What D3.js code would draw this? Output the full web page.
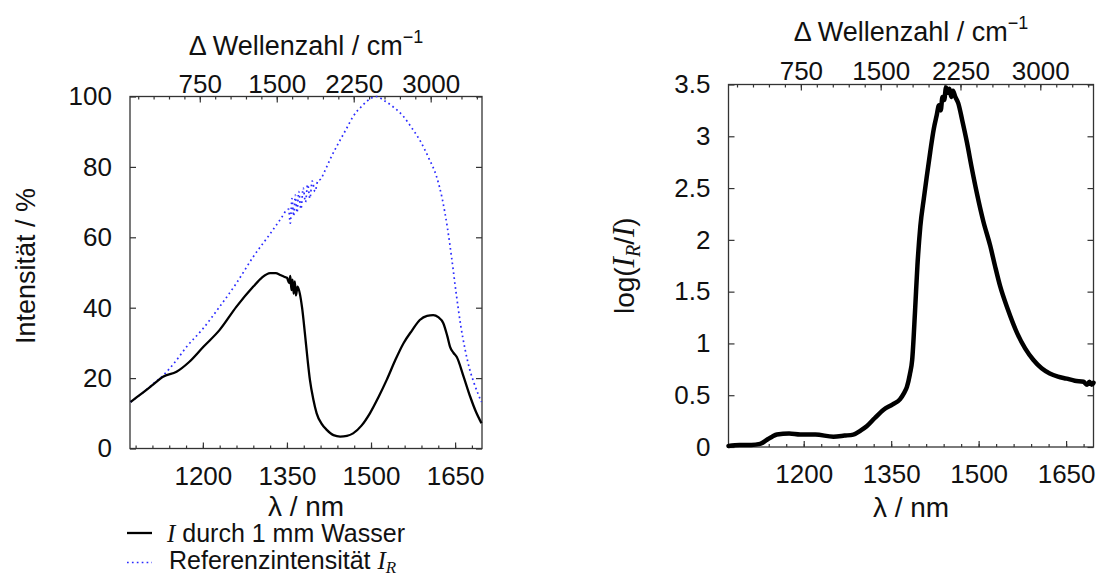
<!DOCTYPE html>
<html>
<head>
<meta charset="utf-8">
<script src="https://cdn.jsdelivr.net/npm/d3@7"></script>
<style>
  body { margin: 0; background: #fff; }
  text { font-family: "Liberation Sans", Arial, Helvetica, sans-serif; fill: #111; }
  .axis path { display: none; }
  .axis line { stroke: #333; stroke-width: 1.2; }
  .axis text { font-size: 26px; fill: #111; font-family: "Liberation Sans", Arial, sans-serif; }
</style>
</head>
<body>
<script>
// reference intensity I_R (blue dotted), in %
var lambdaRef = [1071, 1090, 1110, 1130, 1150, 1171, 1200, 1230, 1260, 1290, 1320, 1340, 1350,
    1353, 1356, 1359, 1362, 1365, 1368, 1371, 1375, 1379, 1383, 1387, 1391, 1395, 1400, 1405, 1410,
    1418, 1428, 1439, 1455, 1468, 1485, 1500, 1510, 1522, 1540, 1558, 1573, 1587, 1603, 1617, 1627, 1636,
    1644, 1652, 1660, 1668, 1676, 1684, 1691, 1697];
var refIntensity = [13.2, 15.5, 18.2, 20.9, 24.5, 28.9, 34, 40.3, 47, 54.5, 61, 65.5, 67.8,
    68, 64, 71, 66, 72, 67, 73, 68, 74, 70, 75, 71, 76, 73, 76, 76.5,
    79, 82.5, 85.9, 90.5, 94.3, 97.5, 99.5, 100, 99, 97, 94.3, 91, 87.6, 82.5, 77.2, 71, 63,
    54, 44, 35, 28, 22.5, 18.5, 15.5, 13.2];

// intensity through 1 mm water (black solid), in %
var lambdaWater = [1071, 1090, 1110, 1129, 1153, 1175, 1201, 1230, 1260, 1290, 1305, 1320, 1330, 1338, 1345,
    1350, 1354, 1356, 1358, 1360, 1362, 1364, 1366, 1369, 1373, 1377, 1382, 1387, 1391, 1397, 1403,
    1412, 1421, 1433, 1445, 1457, 1468, 1483, 1498, 1513, 1528, 1543, 1558, 1573, 1587, 1600, 1611,
    1620, 1629, 1636, 1641, 1647, 1653, 1665, 1677, 1687, 1697];
var waterIntensity = [13.2, 15.5, 18, 20.4, 21.8, 24.5, 28.9, 33.7, 40.3, 46, 48.5, 49.8, 49.8, 49.3, 48.8,
    48.5, 47, 49, 45, 48, 44, 47.5, 43.5, 46, 44, 40, 32.8, 25, 19.5, 14, 10,
    7, 5.3, 3.8, 3.4, 3.6, 4.3, 6.5, 10, 14.5, 19.5, 25, 29.9, 33.5, 36.5, 37.7, 37.9,
    37.3, 35.6, 32, 28.9, 27.2, 26, 20.5, 14.7, 10.5, 7.2];

// absorbance log(I_R/I)
var lambdaAbs = [1071, 1090, 1110, 1125, 1137, 1146, 1154, 1175, 1194, 1220, 1251, 1270, 1285, 1298, 1308,
    1322, 1337, 1352, 1365, 1372, 1377, 1382, 1386, 1391, 1395, 1400, 1406, 1411, 1417, 1423,
    1428, 1432, 1435, 1438, 1441, 1444, 1447, 1450, 1453, 1456, 1460, 1465,
    1472, 1480, 1488, 1497, 1508, 1520, 1528, 1537, 1550, 1566, 1580, 1594, 1608, 1622, 1636,
    1651, 1665, 1680, 1686, 1690, 1694, 1697];
var absorbance = [0.01, 0.02, 0.02, 0.03, 0.07, 0.10, 0.12, 0.13, 0.12, 0.12, 0.10, 0.11, 0.12, 0.16, 0.20,
    0.28, 0.36, 0.41, 0.46, 0.52, 0.58, 0.70, 0.84, 1.32, 1.75, 2.13, 2.40, 2.61, 2.85, 3.07,
    3.20, 3.30, 3.25, 3.38, 3.35, 3.47, 3.42, 3.46, 3.38, 3.44, 3.38, 3.32,
    3.15, 2.94, 2.70, 2.45, 2.18, 1.94, 1.75, 1.55, 1.33, 1.10, 0.95, 0.84, 0.76, 0.71, 0.68,
    0.66, 0.64, 0.63, 0.60, 0.63, 0.60, 0.62];

var lambdaTicks = [1200, 1350, 1500, 1650];
var lambdaMinor = d3.range(1080, 1700, 30);
var waveTicks = [750, 1500, 2250, 3000];
var waveMinor = d3.range(150, 3500, 150);
var intensityTicks = [0, 20, 40, 60, 80, 100];
var absTicks = [0, 0.5, 1, 1.5, 2, 2.5, 3, 3.5];

var width = 1105;
var height = 576;

var svg = d3.select('body')
    .append('svg')
    .attr('width', width)
    .attr('height', height);

var left = { x0: 130, x1: 482, y0: 448.5, y1: 96.5 };
var right = { x0: 728.5, x1: 1093.5, y0: 447, y1: 84.5 };

var xL = d3.scaleLinear().domain([1070, 1698]).range([left.x0, left.x1]);
var x2L = d3.scaleLinear().domain([70, 3500]).range([left.x0, left.x1]);
var yL = d3.scaleLinear().domain([0, 100]).range([left.y0, left.y1]);

var xR = d3.scaleLinear().domain([1071, 1697]).range([right.x0, right.x1]);
var x2R = d3.scaleLinear().domain([70, 3500]).range([right.x0, right.x1]);
var yR = d3.scaleLinear().domain([0, 3.5]).range([right.y0, right.y1]);

var plain = d3.format('d');

function drawAxes(box, x, x2, y, yTicks, yFormat, topPad) {
    // minor ticks first
    svg.append('g').attr('class', 'axis')
        .attr('transform', 'translate(0,' + box.y0 + ')')
        .call(d3.axisBottom(x).tickValues(lambdaMinor).tickSize(-3).tickFormat(''));
    svg.append('g').attr('class', 'axis')
        .attr('transform', 'translate(0,' + box.y1 + ')')
        .call(d3.axisTop(x2).tickValues(waveMinor).tickSize(-3).tickFormat(''));

    svg.append('g').attr('class', 'axis')
        .attr('transform', 'translate(0,' + box.y0 + ')')
        .call(d3.axisBottom(x).tickValues(lambdaTicks).tickSize(-6).tickPadding(18).tickFormat(plain));
    svg.append('g').attr('class', 'axis')
        .attr('transform', 'translate(0,' + box.y1 + ')')
        .call(d3.axisTop(x2).tickValues(waveTicks).tickSize(-6).tickPadding(topPad).tickFormat(plain));
    svg.append('g').attr('class', 'axis')
        .attr('transform', 'translate(' + box.x0 + ',0)')
        .call(d3.axisLeft(y).tickValues(yTicks).tickSize(-6).tickPadding(18).tickFormat(yFormat));
    svg.append('g').attr('class', 'axis')
        .attr('transform', 'translate(' + box.x1 + ',0)')
        .call(d3.axisRight(y).tickValues(yTicks).tickSize(-6).tickFormat(''));

    svg.append('rect')
        .attr('x', box.x0)
        .attr('y', box.y1)
        .attr('width', box.x1 - box.x0)
        .attr('height', box.y0 - box.y1)
        .attr('fill', 'none')
        .attr('stroke', '#333')
        .attr('stroke-width', 1.3);
}

drawAxes(left, xL, x2L, yL, intensityTicks, plain, 4);
drawAxes(right, xR, x2R, yR, absTicks, function(d) { return String(d); }, 5);

// curves, left panel
var refLine = d3.line()
    .x(function(d, i) { return xL(lambdaRef[i]); })
    .y(function(d) { return yL(d); })
    .curve(d3.curveMonotoneX);

var waterLine = d3.line()
    .x(function(d, i) { return xL(lambdaWater[i]); })
    .y(function(d) { return yL(d); })
    .curve(d3.curveMonotoneX);

svg.append('path')
    .datum(refIntensity)
    .attr('d', refLine)
    .attr('fill', 'none')
    .attr('stroke', '#2b2bff')
    .attr('stroke-width', 1.7)
    .attr('stroke-dasharray', '1.7,3.2');

svg.append('path')
    .datum(waterIntensity)
    .attr('d', waterLine)
    .attr('fill', 'none')
    .attr('stroke', '#000')
    .attr('stroke-width', 2.3)
    .attr('stroke-linejoin', 'round');

// curve, right panel
var absLine = d3.line()
    .x(function(d, i) { return xR(lambdaAbs[i]); })
    .y(function(d) { return yR(d); })
    .curve(d3.curveMonotoneX);

svg.append('path')
    .datum(absorbance)
    .attr('d', absLine)
    .attr('fill', 'none')
    .attr('stroke', '#000')
    .attr('stroke-width', 4.5)
    .attr('stroke-linejoin', 'round')
    .attr('stroke-linecap', 'round');

// titles
function waveTitle(cx, baseline) {
    var t = svg.append('text')
        .attr('x', cx)
        .attr('y', baseline)
        .attr('text-anchor', 'middle')
        .style('font-size', '27px');
    t.append('tspan').text('\u0394 Wellenzahl / cm');
    t.append('tspan').attr('dy', -12).style('font-size', '18px').text('\u22121');
}
waveTitle((left.x0 + left.x1) / 2, 55);
waveTitle((right.x0 + right.x1) / 2, 41);

svg.append('text')
    .attr('x', (left.x0 + left.x1) / 2)
    .attr('y', 516)
    .attr('text-anchor', 'middle')
    .style('font-size', '28px')
    .text('\u03bb / nm');

svg.append('text')
    .attr('x', (right.x0 + right.x1) / 2)
    .attr('y', 517)
    .attr('text-anchor', 'middle')
    .style('font-size', '28px')
    .text('\u03bb / nm');

svg.append('text')
    .attr('transform', 'translate(35,266) rotate(-90)')
    .attr('text-anchor', 'middle')
    .style('font-size', '27px')
    .text('Intensit\u00e4t / %');

var absTitle = svg.append('text')
    .attr('transform', 'translate(634,' + ((right.y0 + right.y1) / 2) + ') rotate(-90)')
    .attr('text-anchor', 'middle')
    .style('font-size', '28px');
absTitle.append('tspan').text('log(');
absTitle.append('tspan').style('font-family', '"Liberation Serif", serif').style('font-style', 'italic').style('font-size', '31px').text('I');
absTitle.append('tspan').attr('dy', 6).style('font-family', '"Liberation Serif", serif').style('font-style', 'italic').style('font-size', '20px').text('R');
absTitle.append('tspan').attr('dy', -6).text('/');
absTitle.append('tspan').style('font-family', '"Liberation Serif", serif').style('font-style', 'italic').style('font-size', '31px').text('I');
absTitle.append('tspan').text(')');

// legend
svg.append('line')
    .attr('x1', 127).attr('x2', 152)
    .attr('y1', 533).attr('y2', 533)
    .attr('stroke', '#000')
    .attr('stroke-width', 2.3);

svg.append('line')
    .attr('x1', 127).attr('x2', 152)
    .attr('y1', 562.5).attr('y2', 562.5)
    .attr('stroke', '#2b2bff')
    .attr('stroke-width', 1.7)
    .attr('stroke-dasharray', '1.7,3.2');

var leg1 = svg.append('text')
    .attr('x', 167)
    .attr('y', 542)
    .style('font-size', '25px');
leg1.append('tspan').style('font-family', '"Liberation Serif", serif').style('font-style', 'italic').text('I');
leg1.append('tspan').text(' durch 1 mm Wasser');

var leg2 = svg.append('text')
    .attr('x', 169)
    .attr('y', 569)
    .style('font-size', '25px');
leg2.append('tspan').text('Referenzintensit\u00e4t ');
leg2.append('tspan').style('font-family', '"Liberation Serif", serif').style('font-style', 'italic').text('I');
leg2.append('tspan').attr('dy', 4).style('font-family', '"Liberation Serif", serif').style('font-style', 'italic').style('font-size', '17px').text('R');
</script>
</body>
</html>
